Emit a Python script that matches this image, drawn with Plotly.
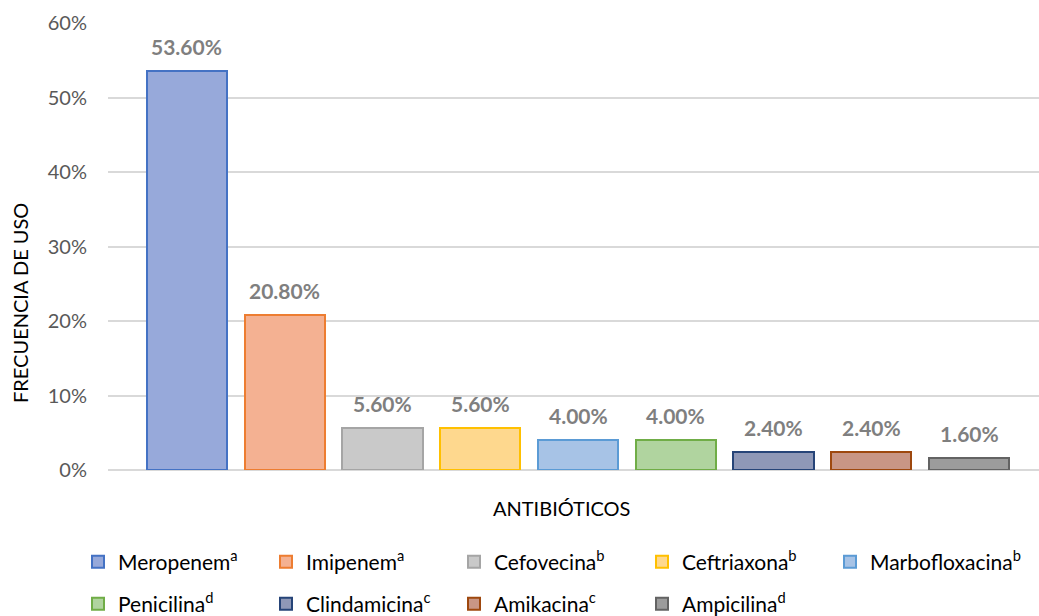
import plotly.graph_objects as go

categories = ["Meropenem<sup>a</sup>", "Imipenem<sup>a</sup>", "Cefovecina<sup>b</sup>",
              "Ceftriaxona<sup>b</sup>", "Marbofloxacina<sup>b</sup>", "Penicilina<sup>d</sup>",
              "Clindamicina<sup>c</sup>", "Amikacina<sup>c</sup>", "Ampicilina<sup>d</sup>"]
values = [0.536, 0.208, 0.056, 0.056, 0.040, 0.040, 0.024, 0.024, 0.016]
value_labels = ["53.60%", "20.80%", "5.60%", "5.60%", "4.00%", "4.00%", "2.40%", "2.40%", "1.60%"]
fill_colors = ["#97a9da", "#f4b192", "#c9c9c9", "#fed88e", "#a7c3e6",
               "#b0d49f", "#8f98b7", "#c99685", "#9c9c9c"]
line_colors = ["#4472c4", "#ed7d31", "#a5a5a5", "#ffc000", "#5b9bd5",
               "#70ad47", "#264478", "#9e480e", "#636363"]
legend_ids = ["legend", "legend", "legend", "legend", "legend3",
              "legend2", "legend2", "legend2", "legend2"]
y_ticks = [0, 0.1, 0.2, 0.3, 0.4, 0.5, 0.6]
y_ticktext = ["0%", "10%", "20%", "30%", "40%", "50%", "60%"]

FONT = "Lato"
W, H = 1039, 616
ml, mr, mt, mb = 108, 0, 23, 146
PW, PH = W - ml - mr, H - mt - mb
COL = 188

fig = go.Figure()
xpos = list(range(len(categories)))
for i, (c, v) in enumerate(zip(categories, values)):
    fig.add_trace(go.Bar(
        x=[xpos[i]], y=[v], name=c, width=0.82,
        marker=dict(color=fill_colors[i], line=dict(color=line_colors[i], width=2)),
        legend=legend_ids[i],
        hoverinfo="skip",
    ))
    fig.add_annotation(x=xpos[i], y=v, text=value_labels[i], showarrow=False,
                       yanchor="middle", yshift=25,
                       font=dict(family=FONT, size=21, color="#7f7f7f", weight="bold"))

fig.add_annotation(xref="paper", yref="paper", x=(561 - ml) / PW, y=(470 - 508) / PH,
                   text="ANTIBIÓTICOS", showarrow=False, xanchor="center", yanchor="middle",
                   font=dict(family=FONT, size=20, color="#000000"))
fig.add_annotation(xref="paper", yref="paper", x=(20 - ml) / PW, y=(470 - 303) / PH,
                   text="FRECUENCIA DE USO", showarrow=False, textangle=-90,
                   xanchor="center", yanchor="middle",
                   font=dict(family=FONT, size=20, color="#000000"))

legend_common = dict(orientation="h", xanchor="left", yanchor="middle",
                     traceorder="normal",
                     font=dict(family=FONT, size=21, color="#000000"),
                     bgcolor="rgba(0,0,0,0)")

fig.update_layout(
    width=W, height=H,
    margin=dict(l=ml, r=mr, t=mt, b=mb, autoexpand=False),
    plot_bgcolor="white", paper_bgcolor="white",
    bargap=0,
    showlegend=True,
    legend=dict(x=(78 - ml) / PW, y=(470 - 562) / PH, entrywidth=143,
                entrywidthmode="pixels", **legend_common),
    legend3=dict(x=(78 + 4 * COL - ml) / PW, y=(470 - 562) / PH, **legend_common),
    legend2=dict(x=(78 - ml) / PW, y=(470 - 604) / PH, entrywidth=143,
                 entrywidthmode="pixels", **legend_common),
    xaxis=dict(range=[-0.808, 8.716], showticklabels=False, showgrid=False,
               zeroline=False, showline=False, fixedrange=True),
    yaxis=dict(range=[0, 0.6005], tickvals=y_ticks, ticktext=y_ticktext,
               showgrid=True, gridcolor="#d9d9d9", gridwidth=2,
               zeroline=True, zerolinecolor="#d9d9d9", zerolinewidth=2,
               showline=False, ticks="", ticklabelstandoff=20,
               tickfont=dict(family=FONT, size=20, color="#595959")),
)

fig.write_html("out.html")
